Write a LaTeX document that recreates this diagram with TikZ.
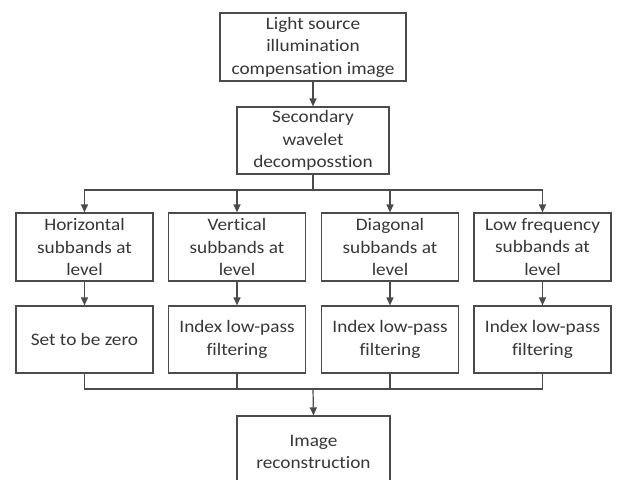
\documentclass[tikz,border=0pt]{standalone}
\usepackage{fontspec}
\setmainfont[FakeStretch=1.1,Ligatures=NoCommon]{Carlito}
\usetikzlibrary{arrows.meta}
\definecolor{ln}{RGB}{75,75,75}
\definecolor{tx}{RGB}{55,55,55}
\begin{document}
\begin{tikzpicture}[x=1pt,y=-1pt,
  box/.style={draw=ln,line width=1.2pt,fill=white,text=tx,align=center,
    font=\fontsize{17.5}{22.5}\selectfont,inner sep=0pt},
  arr/.style={draw=ln,line width=1.2pt,-{Triangle[length=8pt,width=7pt]}},
  ln/.style={draw=ln,line width=1.2pt}]
\useasboundingbox (0,0) rectangle (618,479);
\clip (0,0) rectangle (618,479);
\node[box,minimum width=186pt,minimum height=68pt] (top) at (313,47) {Light source\\illumination\\compensation image};
\node[box,minimum width=152pt,minimum height=67pt] (sec) at (313,140.5) {Secondary\\wavelet\\decomposstion};
\foreach \n/\x/\t in {h/84.5/{Horizontal\\subbands at\\level},v/237/{Vertical\\subbands at\\level},d/390/{Diagonal\\subbands at\\level},l/542.5/{Low frequency\\subbands at\\level}}{
  \node[box,minimum width=137pt,minimum height=68pt] (\n1) at (\x,247) {\t};
}
\node[box,minimum width=137pt,minimum height=67pt] (h2) at (84.5,339.5) {Set to be zero};
\foreach \n/\x in {v/237,d/390,l/542.5}{
  \node[box,minimum width=137pt,minimum height=67pt] (\n2) at (\x,339.5) {Index low-pass\\filtering};
}
\node[box,minimum width=153pt,minimum height=72pt] (fin) at (313.5,452) {Image\\reconstruction};
\coordinate (br) at (313,190);
\coordinate (mg) at (313,389);
\draw[arr] (top) -- (sec);
\draw[ln] (sec.south) -- (br);
\foreach \n in {h,v,d,l}{
  \draw[arr] (br) -| (\n1.north);
  \draw[arr] (\n1) -- (\n2);
  \draw[ln] (\n2.south) |- (mg);
}
\draw[arr] (mg) -- (fin.north);
\end{tikzpicture}
\end{document}
